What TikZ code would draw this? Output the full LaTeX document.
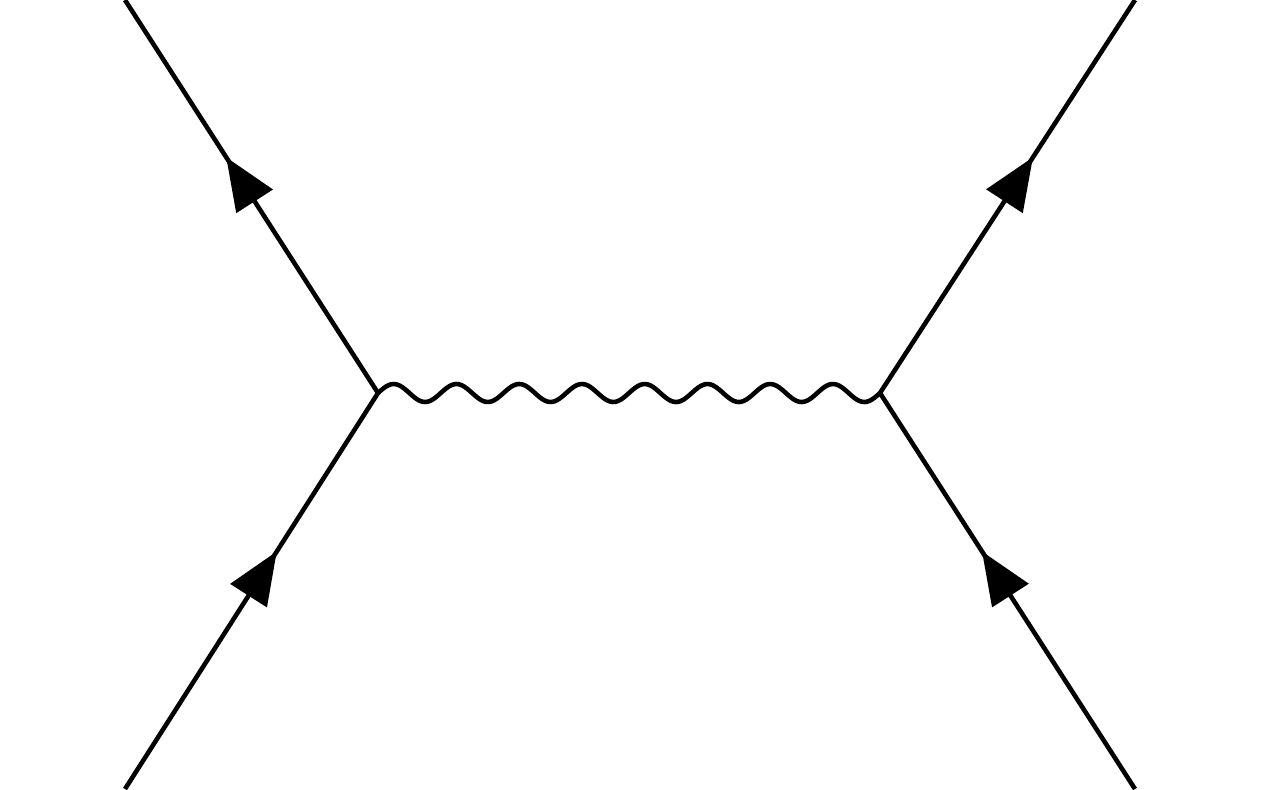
\documentclass[tikz,border=0pt]{standalone}
\usetikzlibrary{decorations.markings,arrows.meta}
\begin{document}
\begin{tikzpicture}[x=0.02cm,y=-0.02cm,
  fermion/.style={line width=2.6pt,postaction={decorate},decoration={markings,mark=at position 0.6 with {\arrow{Triangle[length=1.05cm,width=0.85cm]}}}},
  photon/.style={line width=2.6pt}]
\useasboundingbox (0,0) rectangle (1261,789);
\coordinate (v1) at (378,393);
\coordinate (v2) at (880,393);
\coordinate (a) at (125,789);
\coordinate (b) at (125,0);
\coordinate (c) at (1135,0);
\coordinate (d) at (1135,789);
\draw[fermion] (a) -- (v1);
\draw[fermion] (v1) -- (b);
\draw[fermion] (v2) -- (c);
\draw[fermion] (d) -- (v2);
\draw[photon,line join=round] (v1) plot[domain=0:502,samples=200,smooth] ([shift={(\x,{-9*sin(\x/62.75*360)})}]v1);
\end{tikzpicture}
\end{document}
